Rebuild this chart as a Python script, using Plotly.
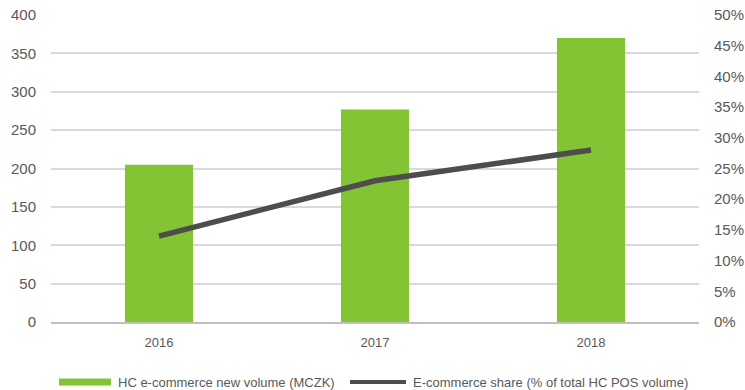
import plotly.graph_objects as go

# Yearly figures
years = ["2016", "2017", "2018"]
ecommerce_volume = [205, 277, 370]          # MCZK
ecommerce_share = [14.0, 23.0, 28.0]        # % of total HC POS volume

left_ticks = [0, 50, 100, 150, 200, 250, 300, 350, 400]
right_ticks = [0, 5, 10, 15, 20, 25, 30, 35, 40, 45, 50]
right_tick_labels = [f"{v}%" for v in right_ticks]

bar_name = "HC e-commerce new volume (MCZK)"
line_name = "E-commerce share (% of total HC POS volume)"

GREEN = "#82C433"
DARK = "#4D4D4D"
GRID = "#D9D9D9"
TEXT = "#595959"
FONT = "Liberation Sans, Arial, sans-serif"

W, H = 745, 390
M_L, M_R, M_T, M_B = 51, 46, 15, 68
PW, PH = W - M_L - M_R, H - M_T - M_B


def px_x(px):
    """Pixel column -> paper x."""
    return (px - M_L) / PW


def px_y(py):
    """Pixel row -> paper y."""
    return (H - M_B - py) / PH


fig = go.Figure()

fig.add_trace(go.Bar(
    x=years, y=ecommerce_volume,
    name=bar_name,
    marker=dict(color=GREEN, line=dict(width=0)),
    yaxis="y",
    showlegend=False,
))

fig.add_trace(go.Scatter(
    x=years, y=ecommerce_share,
    name=line_name,
    mode="lines",
    line=dict(color=DARK, width=5.5),
    yaxis="y2",
    showlegend=False,
))

# Legend row drawn below the plot with wide swatches
legend_y = 382
shapes = [
    dict(type="rect", xref="paper", yref="paper",
         x0=px_x(59), x1=px_x(111), y0=px_y(legend_y + 3.5), y1=px_y(legend_y - 3.5),
         fillcolor=GREEN, line=dict(width=0)),
    dict(type="line", xref="paper", yref="paper",
         x0=px_x(350), x1=px_x(406), y0=px_y(legend_y), y1=px_y(legend_y),
         line=dict(color=DARK, width=4)),
]
annotations = [
    dict(xref="paper", yref="paper", x=px_x(116), y=px_y(legend_y),
         xanchor="left", yanchor="middle", showarrow=False,
         text=bar_name, font=dict(size=13, color=TEXT, family=FONT)),
    dict(xref="paper", yref="paper", x=px_x(411), y=px_y(legend_y),
         xanchor="left", yanchor="middle", showarrow=False,
         text=line_name, font=dict(size=13, color=TEXT, family=FONT)),
]

fig.update_layout(
    width=W, height=H,
    margin=dict(l=M_L, r=M_R, t=M_T, b=M_B, autoexpand=False),
    paper_bgcolor="white", plot_bgcolor="white",
    font=dict(family=FONT, color=TEXT),
    bargap=0.685,
    showlegend=False,
    shapes=shapes,
    annotations=annotations,
    xaxis=dict(
        type="category",
        showgrid=False,
        showline=True, linecolor="#BFBFBF", linewidth=2,
        ticks="", ticklabelstandoff=7,
        tickfont=dict(size=13, color=TEXT),
        automargin=False,
    ),
    yaxis=dict(
        range=[0, 400],
        tickvals=left_ticks,
        showgrid=True, gridcolor=GRID, gridwidth=1.5,
        zeroline=False, showline=False,
        ticks="", ticklabelstandoff=14,
        tickfont=dict(size=15, color=TEXT),
        automargin=False,
    ),
    yaxis2=dict(
        range=[0, 50],
        overlaying="y", side="right",
        tickvals=right_ticks, ticktext=right_tick_labels,
        showgrid=False, zeroline=False, showline=False,
        ticks="", ticklabelstandoff=14,
        tickfont=dict(size=15, color=TEXT),
        automargin=False,
    ),
)

fig.write_html("out.html")
